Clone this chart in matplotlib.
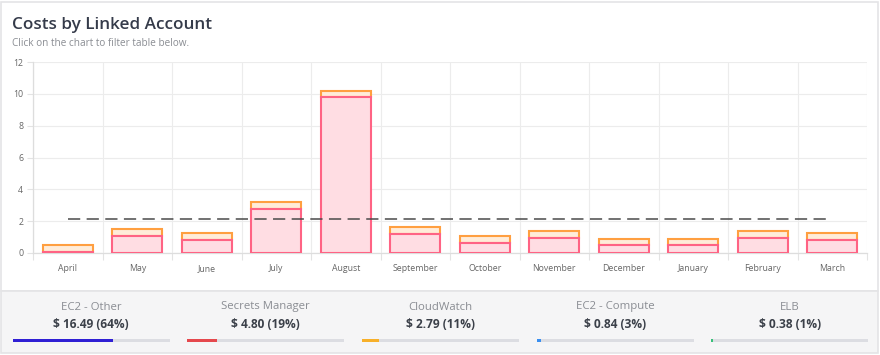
import matplotlib.pyplot as plt
from matplotlib.patches import Rectangle
import numpy as np

months = ["April", "May", "June", "July", "August", "September", "October",
          "November", "December", "January", "February", "March"]
pink_vals = [0.08, 1.07, 0.82, 2.77, 9.80, 1.20, 0.63, 0.94, 0.50, 0.50, 0.96, 0.84]
orange_vals = [0.42, 0.43, 0.44, 0.43, 0.40, 0.43, 0.44, 0.44, 0.38, 0.38, 0.42, 0.40]
avg_value = 2.11

services = ["EC2 - Other", "Secrets Manager", "CloudWatch", "EC2 - Compute", "ELB"]
service_costs = [16.49, 4.80, 2.79, 0.84, 0.38]
service_pcts = [64, 19, 11, 3, 1]
service_colors = ["#3020d4", "#e5484d", "#f7b02a", "#3a8ff0", "#39c07a"]

W, H = 880, 355
plt.rcParams['font.family'] = ['Open Sans', 'DejaVu Sans']

fig = plt.figure(figsize=(W / 100, H / 100), dpi=100)
fig.patch.set_facecolor("white")


def px(x, y, w, h):
    # pixel box (top-left origin) -> figure fraction
    return [x / W, 1 - (y + h) / H, w / W, h / H]


# card backgrounds (behind the axes)
fig.patches.append(Rectangle((1 / W, 1 - 291 / H), 877 / W, 289 / H, transform=fig.transFigure,
                             facecolor="white", edgecolor="#e4e4e6", lw=1.2, zorder=-2))
fig.patches.append(Rectangle((1 / W, 1 - 353 / H), 877 / W, 62 / H, transform=fig.transFigure,
                             facecolor="#f5f5f6", edgecolor="#e4e4e6", lw=1.2, zorder=-2))

fig.text(12 / W, 1 - 25 / H, "Costs by Linked Account", fontsize=12.3, fontweight="semibold",
         color="#353b4a", va="center", ha="left")
fig.text(12 / W, 1 - 44 / H, "Click on the chart to filter table below.", fontsize=7.2,
         color="#8a8d93", va="center", ha="left")

ax = fig.add_axes(px(33, 62, 834, 191))
x = np.arange(len(months))
bw = 0.72
ax.bar(x, orange_vals, bw, bottom=pink_vals, color="#ffecd9", edgecolor="#ff9f40",
       linewidth=1.5, zorder=3)
ax.bar(x, pink_vals, bw, color="#ffdde3", edgecolor="#ff6384", linewidth=1.5, zorder=4)
ax.plot(x, [avg_value] * len(x), color="#4a4a4a", lw=1.1, dashes=(8, 4.2), zorder=5)

ax.set_xlim(-0.5, len(months) - 0.5)
ax.set_ylim(0, 12)
ax.set_yticks(range(0, 13, 2))
ax.set_xticks(x)
ax.set_xticklabels(months)
ax.set_xticks(np.arange(-0.5, len(months)), minor=True)
ax.tick_params(axis="x", which="major", length=0, pad=8, labelsize=6.3, labelcolor="#666666")
ax.tick_params(axis="x", which="minor", length=5, color="#e3e3e3", width=0.8)
ax.tick_params(axis="y", length=4, color="#e3e3e3", width=0.8, pad=3, labelsize=6.3,
               labelcolor="#666666")
ax.grid(True, axis="y", color="#ececec", lw=0.8, zorder=0)
ax.grid(True, axis="x", which="minor", color="#ececec", lw=0.8, zorder=0)
for s in ["top", "right"]:
    ax.spines[s].set_visible(False)
for s in ["left", "bottom"]:
    ax.spines[s].set_color("#dddddd")
    ax.spines[s].set_linewidth(0.9)
ax.set_facecolor("none")

# summary strip
pitch = 174.7
track_w = 157
for i, name in enumerate(services):
    left = 12.5 + i * pitch
    cx = left + track_w / 2
    fig.text(cx / W, 1 - 307 / H, name, fontsize=8.2, color="#8a8d93", ha="center", va="center")
    fig.text(cx / W, 1 - 325 / H, f"$ {service_costs[i]:.2f} ({service_pcts[i]}%)", fontsize=8.6,
             fontweight="bold", color="#3b4049", ha="center", va="center")
    bax = fig.add_axes(px(left, 339, track_w, 3.2))
    bax.barh([0], [100], height=1, color="#dcdde2")
    bax.barh([0], [service_pcts[i]], height=1, color=service_colors[i])
    bax.set_xlim(0, 100)
    bax.set_ylim(-0.5, 0.5)
    bax.axis("off")

fig.savefig("out.png", dpi=100)
